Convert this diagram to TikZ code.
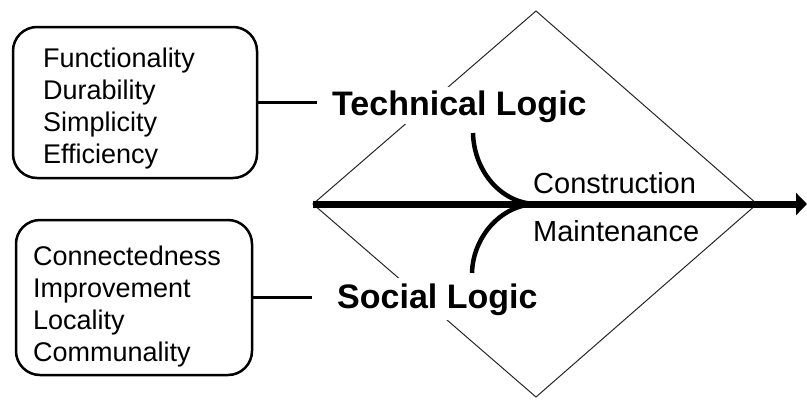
\documentclass[tikz,border=0pt]{standalone}
\usepackage{fontspec}
\setmainfont{Liberation Sans}
\usetikzlibrary{arrows.meta}
\begin{document}
\begin{tikzpicture}[x=1pt,y=-1pt,
  listbox/.style={draw=black,line width=2.5pt,rounded corners=24pt,inner sep=0pt},
  listtext/.style={anchor=north west,align=left,inner sep=0pt,font=\fontsize{27}{32}\selectfont},
  logic/.style={anchor=base west,fill=white,inner ysep=0pt,font=\bfseries\fontsize{34}{40}\selectfont},
  actlabel/.style={anchor=west,inner sep=0pt,font=\fontsize{29}{34}\selectfont},
  link/.style={line width=2.5pt},
  flowcurve/.style={line width=4.5pt},
  rhomb/.style={draw=black!85,line width=1pt}
]
\useasboundingbox (0,0) rectangle (807,400);
% diamond
\coordinate (dt) at (536,11);
\coordinate (dr) at (757,204);
\coordinate (db) at (536,397);
\coordinate (dl) at (313,204);
\draw[rhomb] (dt) -- (dr) -- (db) -- (dl) -- cycle;
% main arrow
\coordinate (tip) at (807,204);
\draw[line width=7pt,-{Triangle[length=11pt,width=22pt]}] (dl) -- (tip);
% logic labels
\node[logic,inner xsep=15pt,text height=28pt,text depth=9pt] (tech) at (317,115) {Technical Logic};
\node[logic,inner xsep=25pt,text height=30pt,text depth=12pt] (soc) at (312,308) {Social Logic};
% boxes
\node[listbox,minimum width=244pt,minimum height=151pt] (b1) at (135,102.5) {};
\node[listtext] (t1) at (43,47.5) {Functionality\\Durability\\Simplicity\\Efficiency};
\node[listbox,minimum width=236pt,minimum height=155pt] (b2) at (134,297.5) {};
\node[listtext] (t2) at (33,245.5) {Connectedness\\Improvement\\Locality\\Communality};
\draw[link] (b1.east) -- (b1.east -| tech.west);
\draw[link] (b2.east) -- (b2.east -| soc.west);
% curves
\coordinate (ctop) at (473,133);
\coordinate (cbot) at (472,273);
\coordinate (join) at (537,204);
\draw[flowcurve] (ctop) .. controls (474,172) and (502,204) .. (join);
\draw[flowcurve] (cbot) .. controls (473,236) and (502,204) .. (join);
% process labels
\node[actlabel] (con) at (533,183) {Construction};
\node[actlabel] (mai) at (533,231) {Maintenance};
\end{tikzpicture}
\end{document}
